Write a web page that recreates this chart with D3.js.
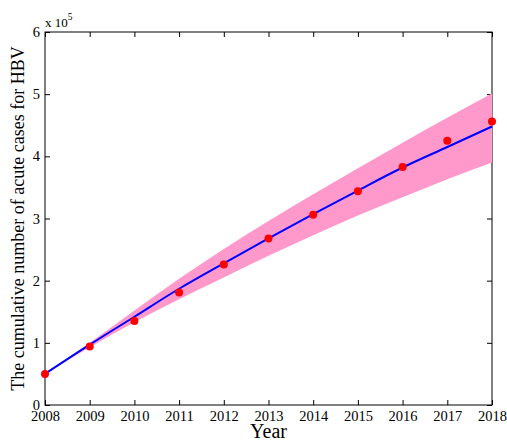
<!DOCTYPE html>
<html>
<head>
<meta charset="utf-8">
<script src="https://cdn.jsdelivr.net/npm/d3@7"></script>
<style>
  body { margin: 0; background: #fff; }
  text { font-family: "Liberation Serif", "Times New Roman", serif; fill: #000; }
</style>
</head>
<body>
<svg id="chart"></svg>
<script>
const W = 507, H = 441
const margin = { left: 45, right: 15, top: 32, bottom: 36 }

// values in units of 1e5
const years = [2008, 2009, 2010, 2011, 2012, 2013, 2014, 2015, 2016, 2017, 2018]
const observed = [0.50, 0.94, 1.35, 1.81, 2.26, 2.68, 3.06, 3.44, 3.83, 4.25, 4.56]
const fitted = [0.50, 0.97, 1.42, 1.87, 2.28, 2.68, 3.07, 3.45, 3.82, 4.15, 4.48]
const bandLow = [0.50, 0.93, 1.33, 1.70, 2.05, 2.40, 2.73, 3.05, 3.34, 3.63, 3.90]
const bandHigh = [0.50, 1.00, 1.52, 2.03, 2.51, 2.96, 3.39, 3.81, 4.22, 4.62, 5.01]
const yTicks = [0, 1, 2, 3, 4, 5, 6]

const svg = d3.select('#chart').attr('width', W).attr('height', H)

const x = d3.scaleLinear().domain([2008, 2018]).range([margin.left, W - margin.right])
const y = d3.scaleLinear().domain([0, 6]).range([H - margin.bottom, margin.top])

// axes (ticks point inwards, MATLAB style)
svg.append('g')
    .attr('transform', `translate(0,${y(0)})`)
    .call(d3.axisBottom(x).tickValues(years).tickFormat(d3.format('d'))
        .tickSizeInner(-5).tickSizeOuter(0).tickPadding(6))
svg.append('g')
    .attr('transform', `translate(0,${y(6)})`)
    .call(d3.axisTop(x).tickValues(years).tickFormat('')
        .tickSizeInner(-5).tickSizeOuter(0))
svg.append('g')
    .attr('transform', `translate(${x(2008)},0)`)
    .call(d3.axisLeft(y).tickValues(yTicks).tickFormat(d3.format('d'))
        .tickSizeInner(-5).tickSizeOuter(0).tickPadding(5))
svg.append('g')
    .attr('transform', `translate(${x(2018)},0)`)
    .call(d3.axisRight(y).tickValues(yTicks).tickFormat('')
        .tickSizeInner(-5).tickSizeOuter(0))

svg.selectAll('.domain').remove()
svg.selectAll('.tick line').attr('stroke', '#000')
svg.selectAll('.tick text').style('font-size', '14.5px').attr('font-family', null)

svg.append('rect')
    .attr('x', x(2008)).attr('y', y(6))
    .attr('width', x(2018) - x(2008)).attr('height', y(0) - y(6))
    .attr('fill', 'none').attr('stroke', '#000').attr('stroke-width', 1)

// confidence band
const band = d3.area()
    .x((d, i) => x(years[i]))
    .y0((d, i) => y(bandLow[i]))
    .y1((d, i) => y(bandHigh[i]))
    .curve(d3.curveMonotoneX)
svg.append('path').datum(years)
    .attr('d', band)
    .attr('fill', '#ff99cc')

// fitted curve
const line = d3.line()
    .x((d, i) => x(years[i]))
    .y(d => y(d))
    .curve(d3.curveMonotoneX)
svg.append('path').datum(fitted)
    .attr('d', line)
    .attr('fill', 'none')
    .attr('stroke', '#0000ff')
    .attr('stroke-width', 2)

// observed data
svg.append('g').selectAll('circle')
    .data(observed)
    .join('circle')
    .attr('cx', (d, i) => x(years[i]))
    .attr('cy', d => y(d))
    .attr('r', 4)
    .attr('fill', '#ff0000')

// exponent label
const expo = svg.append('text')
    .attr('x', x(2008)).attr('y', 27)
    .style('font-size', '13px')
expo.append('tspan').text('x 10')
expo.append('tspan').attr('dy', -7).style('font-size', '9.5px').text('5')

// axis titles
svg.append('text')
    .attr('x', (x(2008) + x(2018)) / 2).attr('y', 438)
    .attr('text-anchor', 'middle')
    .style('font-size', '20px')
    .text('Year')

svg.append('text')
    .attr('transform', `translate(24,${(y(0) + y(6)) / 2}) rotate(-90)`)
    .attr('text-anchor', 'middle')
    .style('font-size', '18px')
    .text('The cumulative number of acute cases for HBV')
</script>
</body>
</html>
